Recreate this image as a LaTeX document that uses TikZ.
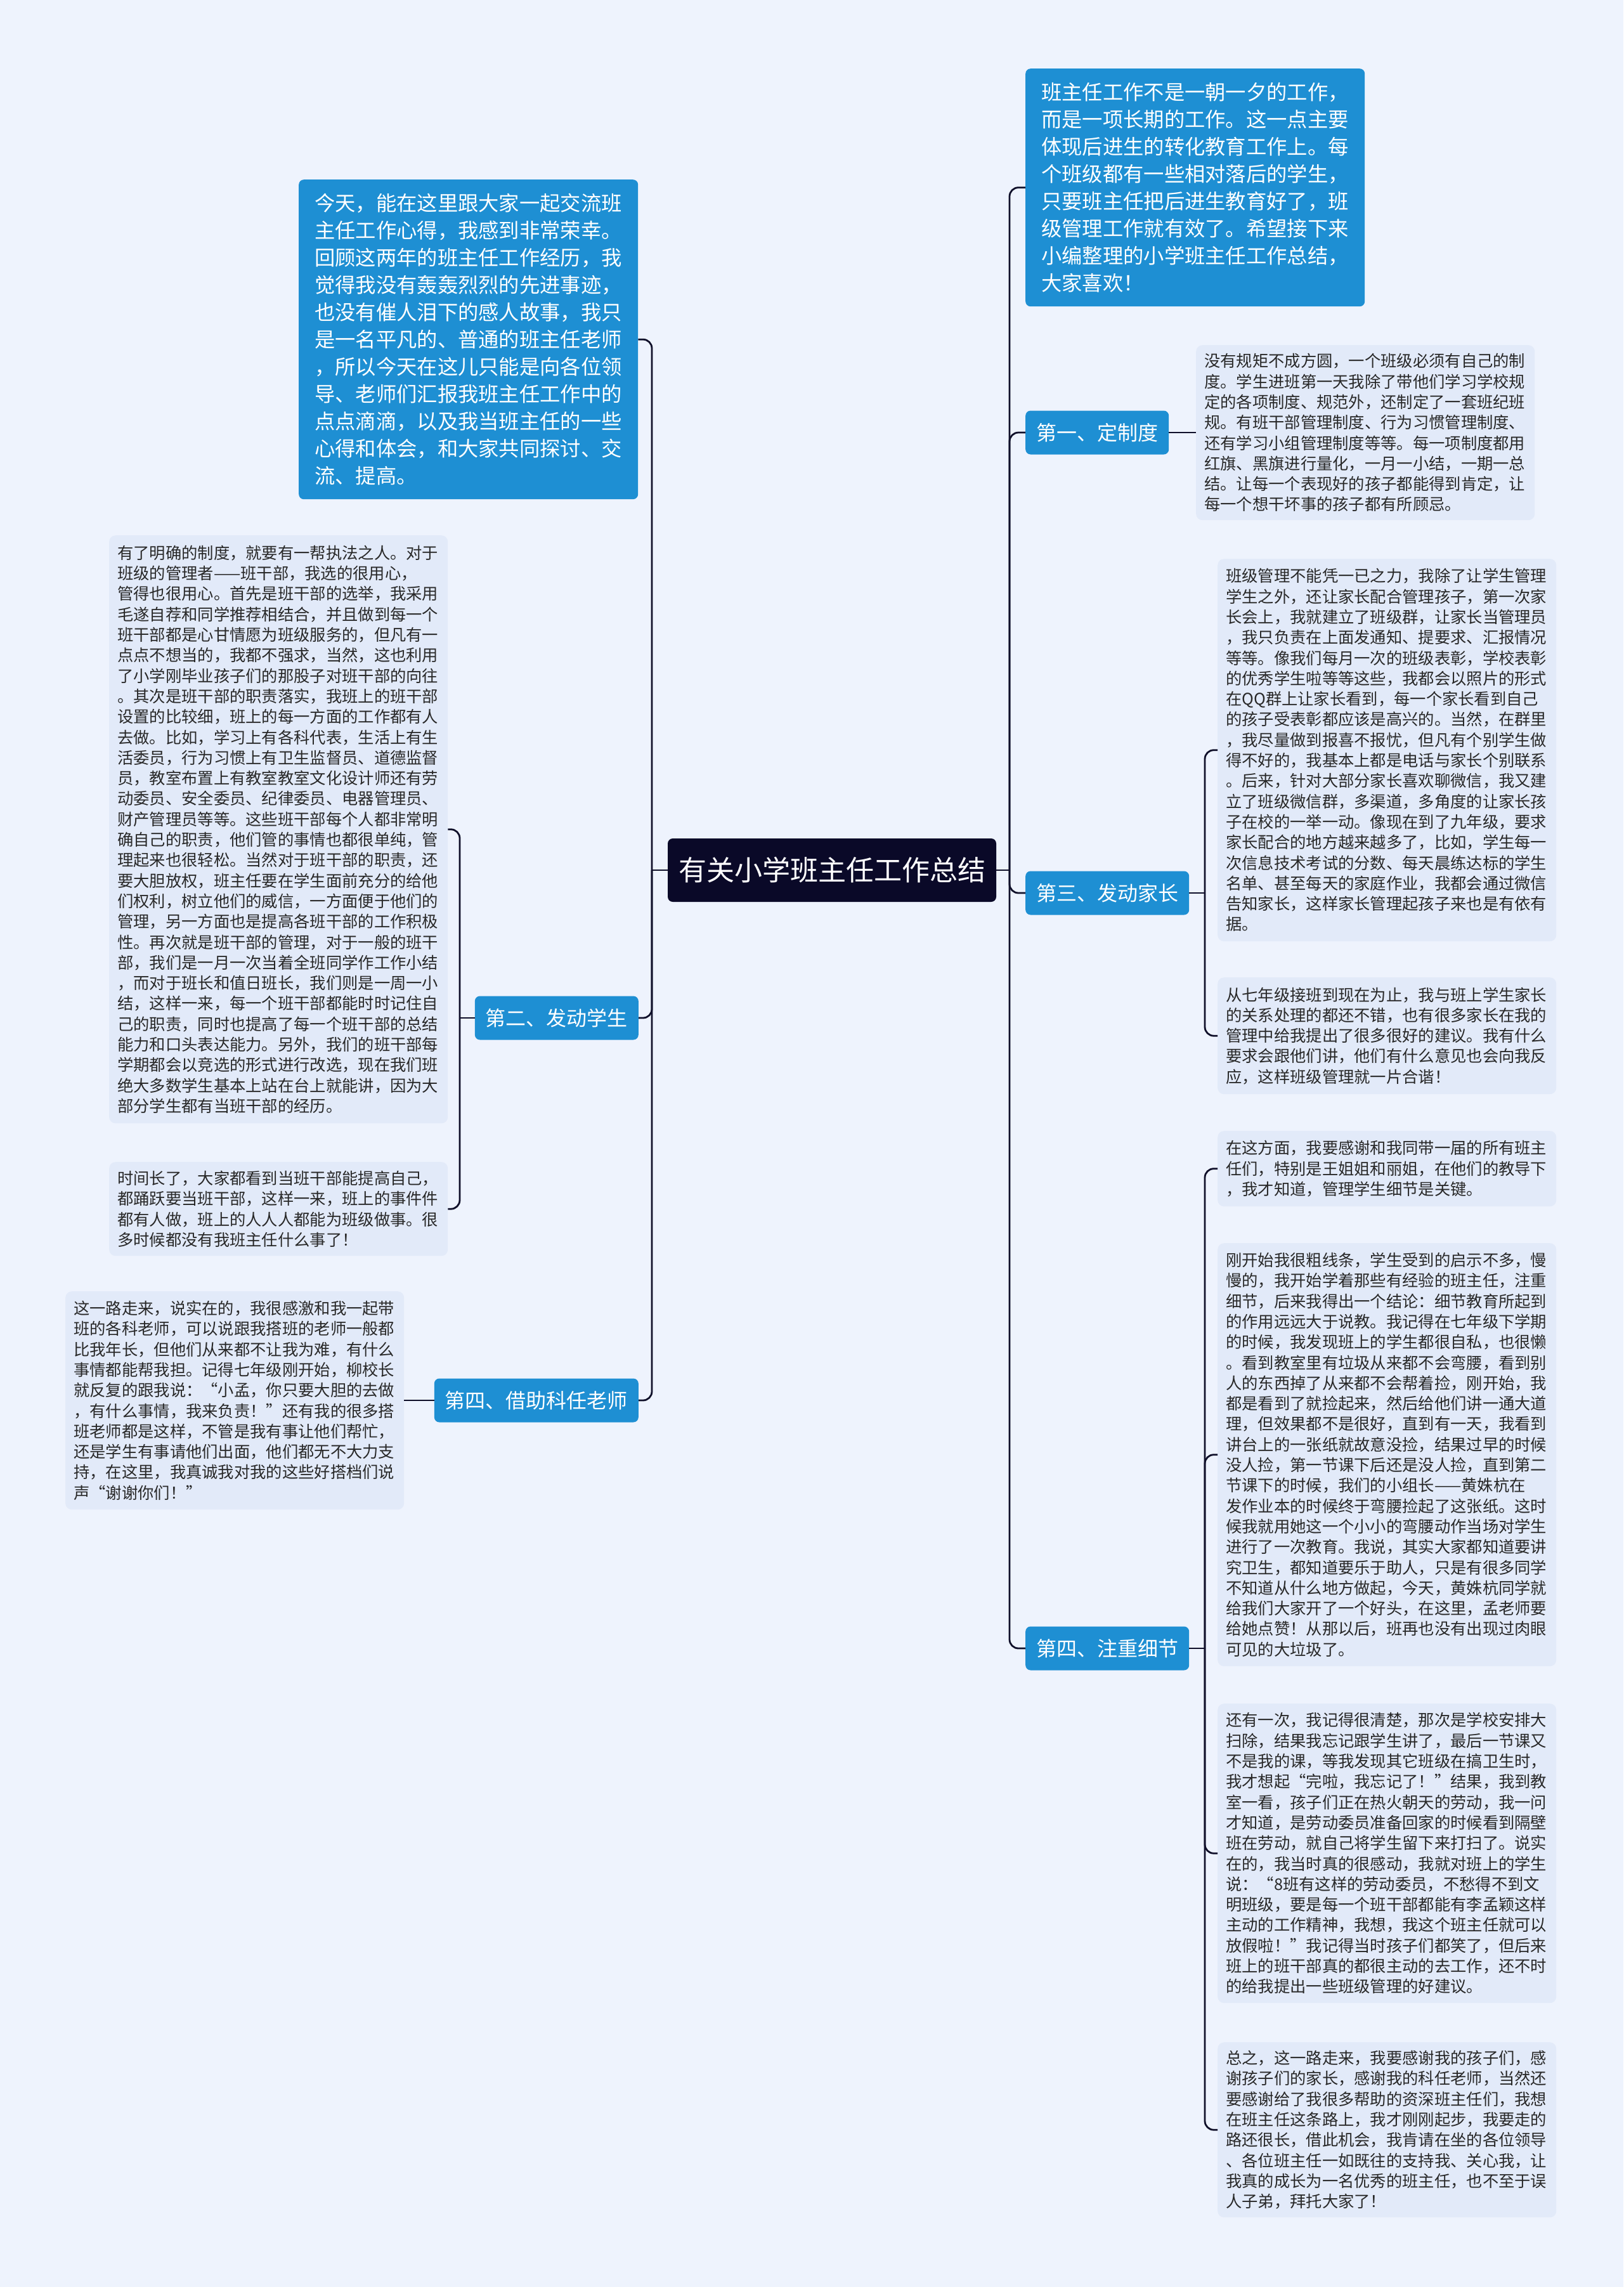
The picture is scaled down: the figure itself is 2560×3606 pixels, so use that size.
\documentclass[tikz,border=0pt]{standalone}
\usepackage{fontspec}
\setmainfont{Noto Sans CJK SC}
\definecolor{bgc}{RGB}{238,243,253}
\definecolor{leafc}{RGB}{226,234,249}
\definecolor{bluec}{RGB}{30,143,211}
\definecolor{navy}{RGB}{10,9,40}
\definecolor{txt}{RGB}{40,40,40}
\definecolor{linec}{RGB}{16,16,42}
\begin{document}
\begin{tikzpicture}[x=1pt,y=-1pt,
  leaf/.style={fill=leafc, rounded corners=10pt, text width=508pt, inner xsep=13pt, inner ysep=8pt, align=left, anchor=north west, text=txt, font=\fontsize{25.3pt}{32.3pt}\selectfont},
  bigbox/.style={fill=bluec, rounded corners=8pt, text width=485pt, inner xsep=25pt, inner ysep=10pt, align=left, anchor=north west, text=white, font=\fontsize{32.3pt}{43pt}\selectfont},
  branchbox/.style={fill=bluec, rounded corners=8pt, text=white, inner xsep=17pt, minimum height=69pt, font=\fontsize{32pt}{38pt}\selectfont},
  rootbox/.style={fill=navy, rounded corners=8pt, text=white, minimum width=518pt, minimum height=100pt, font=\fontsize{44pt}{50pt}\selectfont},
  conn/.style={draw=linec, line width=2.8pt, rounded corners=14pt}]
\fill[bgc] (0,0) rectangle (2560,3606);
\useasboundingbox (0,0) rectangle (2560,3606);

% root
\node[rootbox] (root) at (1312,1372) {有关小学班主任工作总结};

% left side
\node[bigbox, minimum height=504pt] (lintro) at (471,283) {今天，能在这里跟大家一起交流班\\主任工作心得，我感到非常荣幸。\\回顾这两年的班主任工作经历，我\\觉得我没有轰轰烈烈的先进事迹，\\也没有催人泪下的感人故事，我只\\是一名平凡的、普通的班主任老师\\，所以今天在这儿只能是向各位领\\导、老师们汇报我班主任工作中的\\点点滴滴，以及我当班主任的一些\\心得和体会，和大家共同探讨、交\\流、提高。};

\node[branchbox, anchor=east] (l2lab) at (1007,1605) {第二、发动学生};
\node[branchbox, anchor=east] (l4lab) at (1007,2208) {第四、借助科任老师};

\node[leaf, minimum height=927pt] (l2a) at (172,844) {有了明确的制度，就要有一帮执法之人。对于\\班级的管理者——班干部，我选的很用心，\\管得也很用心。首先是班干部的选举，我采用\\毛遂自荐和同学推荐相结合，并且做到每一个\\班干部都是心甘情愿为班级服务的，但凡有一\\点点不想当的，我都不强求，当然，这也利用\\了小学刚毕业孩子们的那股子对班干部的向往\\。其次是班干部的职责落实，我班上的班干部\\设置的比较细，班上的每一方面的工作都有人\\去做。比如，学习上有各科代表，生活上有生\\活委员，行为习惯上有卫生监督员、道德监督\\员，教室布置上有教室教室文化设计师还有劳\\动委员、安全委员、纪律委员、电器管理员、\\财产管理员等等。这些班干部每个人都非常明\\确自己的职责，他们管的事情也都很单纯，管\\理起来也很轻松。当然对于班干部的职责，还\\要大胆放权，班主任要在学生面前充分的给他\\们权利，树立他们的威信，一方面便于他们的\\管理，另一方面也是提高各班干部的工作积极\\性。再次就是班干部的管理，对于一般的班干\\部，我们是一月一次当着全班同学作工作小结\\，而对于班长和值日班长，我们则是一周一小\\结，这样一来，每一个班干部都能时时记住自\\己的职责，同时也提高了每一个班干部的总结\\能力和口头表达能力。另外，我们的班干部每\\学期都会以竞选的形式进行改选，现在我们班\\绝大多数学生基本上站在台上就能讲，因为大\\部分学生都有当班干部的经历。};

\node[leaf, minimum height=148pt] (l2b) at (172,1832) {时间长了，大家都看到当班干部能提高自己，\\都踊跃要当班干部，这样一来，班上的事件件\\都有人做，班上的人人人都能为班级做事。很\\多时候都没有我班主任什么事了！};

\node[leaf, minimum height=344pt] (l4) at (103,2036) {这一路走来，说实在的，我很感激和我一起带\\班的各科老师，可以说跟我搭班的老师一般都\\比我年长，但他们从来都不让我为难，有什么\\事情都能帮我担。记得七年级刚开始，柳校长\\就反复的跟我说：“小孟，你只要大胆的去做\\，有什么事情，我来负责！”还有我的很多搭\\班老师都是这样，不管是我有事让他们帮忙，\\还是学生有事请他们出面，他们都无不大力支\\持，在这里，我真诚我对我的这些好搭档们说\\声“谢谢你们！”};

% right side
\node[bigbox, minimum height=375pt] (rintro) at (1617,108) {班主任工作不是一朝一夕的工作，\\而是一项长期的工作。这一点主要\\体现后进生的转化教育工作上。每\\个班级都有一些相对落后的学生，\\只要班主任把后进生教育好了，班\\级管理工作就有效了。希望接下来\\小编整理的小学班主任工作总结，\\大家喜欢！};

\node[branchbox, anchor=west] (r1lab) at (1617,682) {第一、定制度};
\node[branchbox, anchor=west] (r3lab) at (1617,1408) {第三、发动家长};
\node[branchbox, anchor=west] (r4lab) at (1617,2599) {第四、注重细节};

\node[leaf, minimum height=276pt] (r1) at (1886,544) {没有规矩不成方圆，一个班级必须有自己的制\\度。学生进班第一天我除了带他们学习学校规\\定的各项制度、规范外，还制定了一套班纪班\\规。有班干部管理制度、行为习惯管理制度、\\还有学习小组管理制度等等。每一项制度都用\\红旗、黑旗进行量化，一月一小结，一期一总\\结。让每一个表现好的孩子都能得到肯定，让\\每一个想干坏事的孩子都有所顾忌。};

\node[leaf, minimum height=603pt] (r3a) at (1920,881) {班级管理不能凭一已之力，我除了让学生管理\\学生之外，还让家长配合管理孩子，第一次家\\长会上，我就建立了班级群，让家长当管理员\\，我只负责在上面发通知、提要求、汇报情况\\等等。像我们每月一次的班级表彰，学校表彰\\的优秀学生啦等等这些，我都会以照片的形式\\在QQ群上让家长看到，每一个家长看到自己\\的孩子受表彰都应该是高兴的。当然，在群里\\，我尽量做到报喜不报忧，但凡有个别学生做\\得不好的，我基本上都是电话与家长个别联系\\。后来，针对大部分家长喜欢聊微信，我又建\\立了班级微信群，多渠道，多角度的让家长孩\\子在校的一举一动。像现在到了九年级，要求\\家长配合的地方越来越多了，比如，学生每一\\次信息技术考试的分数、每天晨练达标的学生\\名单、甚至每天的家庭作业，我都会通过微信\\告知家长，这样家长管理起孩子来也是有依有\\据。};

\node[leaf, minimum height=184pt] (r3b) at (1920,1541) {从七年级接班到现在为止，我与班上学生家长\\的关系处理的都还不错，也有很多家长在我的\\管理中给我提出了很多很好的建议。我有什么\\要求会跟他们讲，他们有什么意见也会向我反\\应，这样班级管理就一片合谐！};

\node[leaf, minimum height=119pt] (r4a) at (1920,1783) {在这方面，我要感谢和我同带一届的所有班主\\任们，特别是王姐姐和丽姐，在他们的教导下\\，我才知道，管理学生细节是关键。};

\node[leaf, minimum height=667pt] (r4b) at (1920,1960) {刚开始我很粗线条，学生受到的启示不多，慢\\慢的，我开始学着那些有经验的班主任，注重\\细节，后来我得出一个结论：细节教育所起到\\的作用远远大于说教。我记得在七年级下学期\\的时候，我发现班上的学生都很自私，也很懒\\。看到教室里有垃圾从来都不会弯腰，看到别\\人的东西掉了从来都不会帮着捡，刚开始，我\\都是看到了就捡起来，然后给他们讲一通大道\\理，但效果都不是很好，直到有一天，我看到\\讲台上的一张纸就故意没捡，结果过早的时候\\没人捡，第一节课下后还是没人捡，直到第二\\节课下的时候，我们的小组长——黄姝杭在\\发作业本的时候终于弯腰捡起了这张纸。这时\\候我就用她这一个小小的弯腰动作当场对学生\\进行了一次教育。我说，其实大家都知道要讲\\究卫生，都知道要乐于助人，只是有很多同学\\不知道从什么地方做起，今天，黄姝杭同学就\\给我们大家开了一个好头，在这里，孟老师要\\给她点赞！从那以后，班再也没有出现过肉眼\\可见的大垃圾了。};

\node[leaf, minimum height=472pt] (r4c) at (1920,2686) {还有一次，我记得很清楚，那次是学校安排大\\扫除，结果我忘记跟学生讲了，最后一节课又\\不是我的课，等我发现其它班级在搞卫生时，\\我才想起“完啦，我忘记了！”结果，我到教\\室一看，孩子们正在热火朝天的劳动，我一问\\才知道，是劳动委员准备回家的时候看到隔壁\\班在劳动，就自己将学生留下来打扫了。说实\\在的，我当时真的很感动，我就对班上的学生\\说：“8班有这样的劳动委员，不愁得不到文\\明班级，要是每一个班干部都能有李孟颖这样\\主动的工作精神，我想，我这个班主任就可以\\放假啦！”我记得当时孩子们都笑了，但后来\\班上的班干部真的都很主动的去工作，还不时\\的给我提出一些班级管理的好建议。};

\node[leaf, minimum height=276pt] (r4d) at (1920,3220) {总之，这一路走来，我要感谢我的孩子们，感\\谢孩子们的家长，感谢我的科任老师，当然还\\要感谢给了我很多帮助的资深班主任们，我想\\在班主任这条路上，我才刚刚起步，我要走的\\路还很长，借此机会，我肯请在坐的各位领导\\、各位班主任一如既往的支持我、关心我，让\\我真的成长为一名优秀的班主任，也不至于误\\人子弟，拜托大家了！};

% connectors
\coordinate (lt) at (1028,1372);
\coordinate (rt) at (1592,1372);
\draw[conn] (root.west) -- (lt);
\draw[conn] (root.east) -- (rt);
\draw[conn] (lt) |- (lintro.east);
\draw[conn] (lt) |- (l2lab.east);
\draw[conn] (lt) |- (l4lab.east);
\draw[conn] (rt) |- (rintro.west);
\draw[conn] (rt) |- (r1lab.west);
\draw[conn] (rt) |- (r3lab.west);
\draw[conn] (rt) |- (r4lab.west);

\coordinate (s2) at (725,1605);
\draw[conn] (l2lab.west) -- (s2);
\draw[conn] (s2) |- (l2a.east);
\draw[conn] (s2) |- (l2b.east);
\draw[conn] (l4lab.west) -- (l4.east |- l4lab.west);

\draw[conn] (r1lab.east) -- (r1.west |- r1lab.east);
\coordinate (s3) at (1900,1408);
\draw[conn] (r3lab.east) -- (s3);
\draw[conn] (s3) |- (r3a.west);
\draw[conn] (s3) |- (r3b.west);
\coordinate (s4) at (1900,2599);
\draw[conn] (r4lab.east) -- (s4);
\draw[conn] (s4) |- (r4a.west);
\draw[conn] (s4) |- (r4b.west);
\draw[conn] (s4) |- (r4c.west);
\draw[conn] (s4) |- (r4d.west);
\end{tikzpicture}
\end{document}
